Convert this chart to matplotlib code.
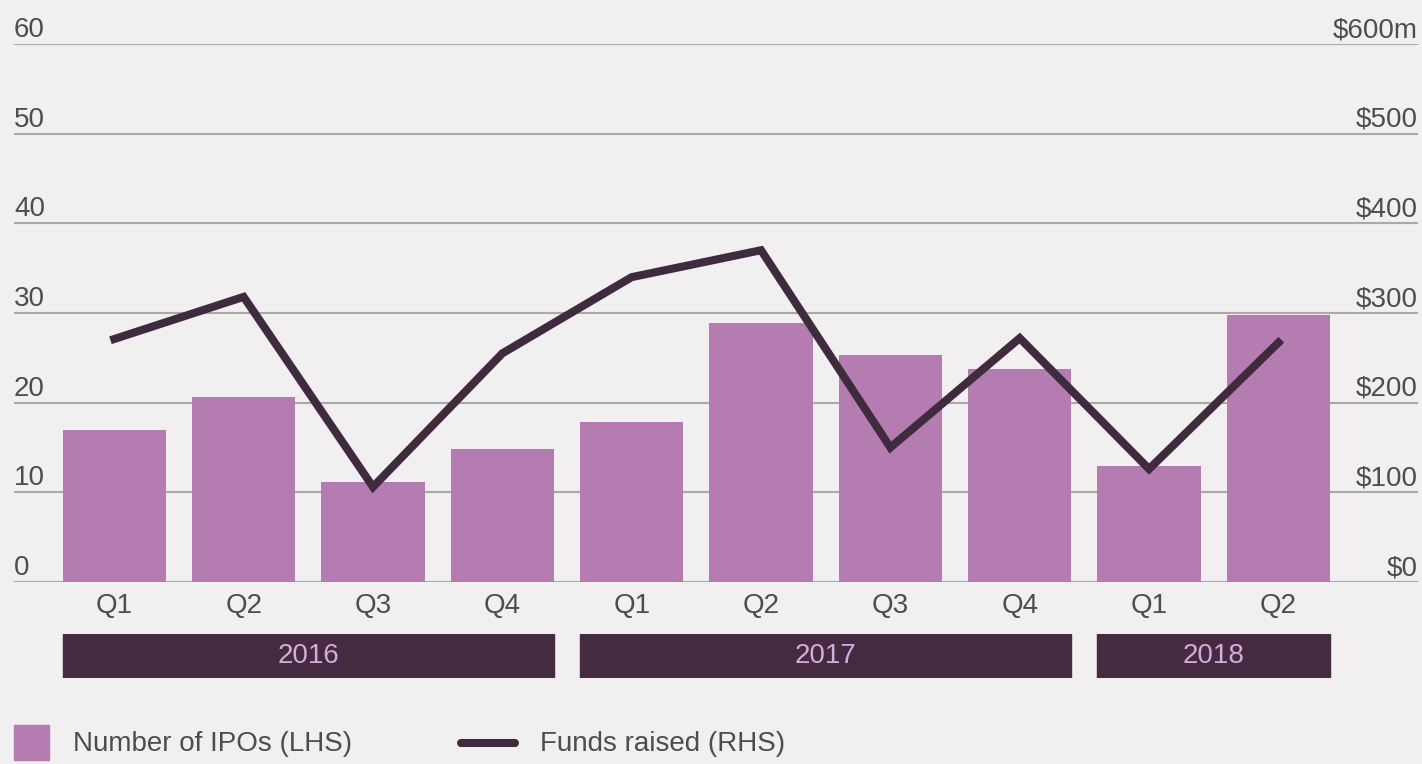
import matplotlib
matplotlib.use("Agg")
import matplotlib.pyplot as plt
from matplotlib.patches import Rectangle
from matplotlib.lines import Line2D
import numpy as np

quarters = ["Q1", "Q2", "Q3", "Q4", "Q1", "Q2", "Q3", "Q4", "Q1", "Q2"]
ipo_counts = [17, 20.6, 11.1, 14.8, 17.8, 28.9, 25.3, 23.7, 12.9, 29.8]
funds_raised = [271, 318, 106, 255, 340, 370, 150, 272, 126, 267]
years = ["2016", "2017", "2018"]
year_spans = [(0, 3), (4, 7), (8, 9)]
left_ticks = [0, 10, 20, 30, 40, 50, 60]
right_ticks = ["$0", "$100", "$200", "$300", "$400", "$500", "$600m"]

W, H = 1422, 764
bg = "#f2eff1"
bar_color = "#b47cb0"
line_color = "#3f2b3d"
band_color = "#442b40"
year_text = "#d8a9dc"
text_color = "#4d4d4d"
grid_color = "#a9a9a9"

plt.rcParams["font.family"] = ["Liberation Sans", "DejaVu Sans"]

fig = plt.figure(figsize=(W / 100, H / 100), dpi=100, facecolor=bg)

def fx(px):
    return px / W

def fy(py):
    return 1 - py / H

x = np.arange(len(quarters))
xlim = (-0.7754, 10.079)

ax = fig.add_axes([fx(14), fy(582), fx(1404), 538 / H])
ax.set_facecolor("none")
ax.bar(x, ipo_counts, width=0.8, color=bar_color, zorder=2)
ax.set_xlim(*xlim)
ax.set_ylim(0, 60)
for s in ax.spines.values():
    s.set_visible(False)
ax.set_yticks([])
ax.set_xticks(x)
ax.set_xticklabels(quarters, fontsize=20, color=text_color)
ax.tick_params(axis="x", length=0, pad=8)

for i, v in enumerate(left_ticks):
    ax.axhline(v, color=grid_color, lw=1.5, zorder=1)
    ax.annotate(str(v), xy=(0, v), xycoords=("axes fraction", "data"),
                xytext=(0, 5), textcoords="offset points",
                ha="left", va="baseline", fontsize=20, color=text_color)
    ax.annotate(right_ticks[i], xy=(1, v), xycoords=("axes fraction", "data"),
                xytext=(0, 5), textcoords="offset points",
                ha="right", va="baseline", fontsize=20, color=text_color)

ax2 = ax.twinx()
ax2.set_ylim(0, 600)
ax2.plot(x, funds_raised, color=line_color, lw=5.8, zorder=3,
         solid_joinstyle="miter")
ax2.set_yticks([])
for s in ax2.spines.values():
    s.set_visible(False)

# year bands
axb = fig.add_axes([fx(14), fy(678), fx(1404), 44 / H])
axb.set_xlim(*xlim)
axb.set_ylim(0, 1)
axb.axis("off")
for yr, (a, b) in zip(years, year_spans):
    axb.add_patch(Rectangle((a - 0.4, 0), b - a + 0.8, 1, color=band_color))
    axb.text((a + b) / 2, 0.5, yr, ha="center", va="center",
             fontsize=20, color=year_text)

# legend
fig.add_artist(Rectangle((fx(14), fy(760)), fx(35), 35 / H,
                         transform=fig.transFigure, color=bar_color))
fig.text(fx(73), fy(744), "Number of IPOs (LHS)", ha="left", va="center",
         fontsize=20, color=text_color)
fig.add_artist(Line2D([fx(461), fx(515)], [fy(743), fy(743)],
                      transform=fig.transFigure, color=line_color,
                      lw=5.8, solid_capstyle="round"))
fig.text(fx(540), fy(744), "Funds raised (RHS)", ha="left", va="center",
         fontsize=20, color=text_color)

fig.savefig("out.png", dpi=100, facecolor=bg)
